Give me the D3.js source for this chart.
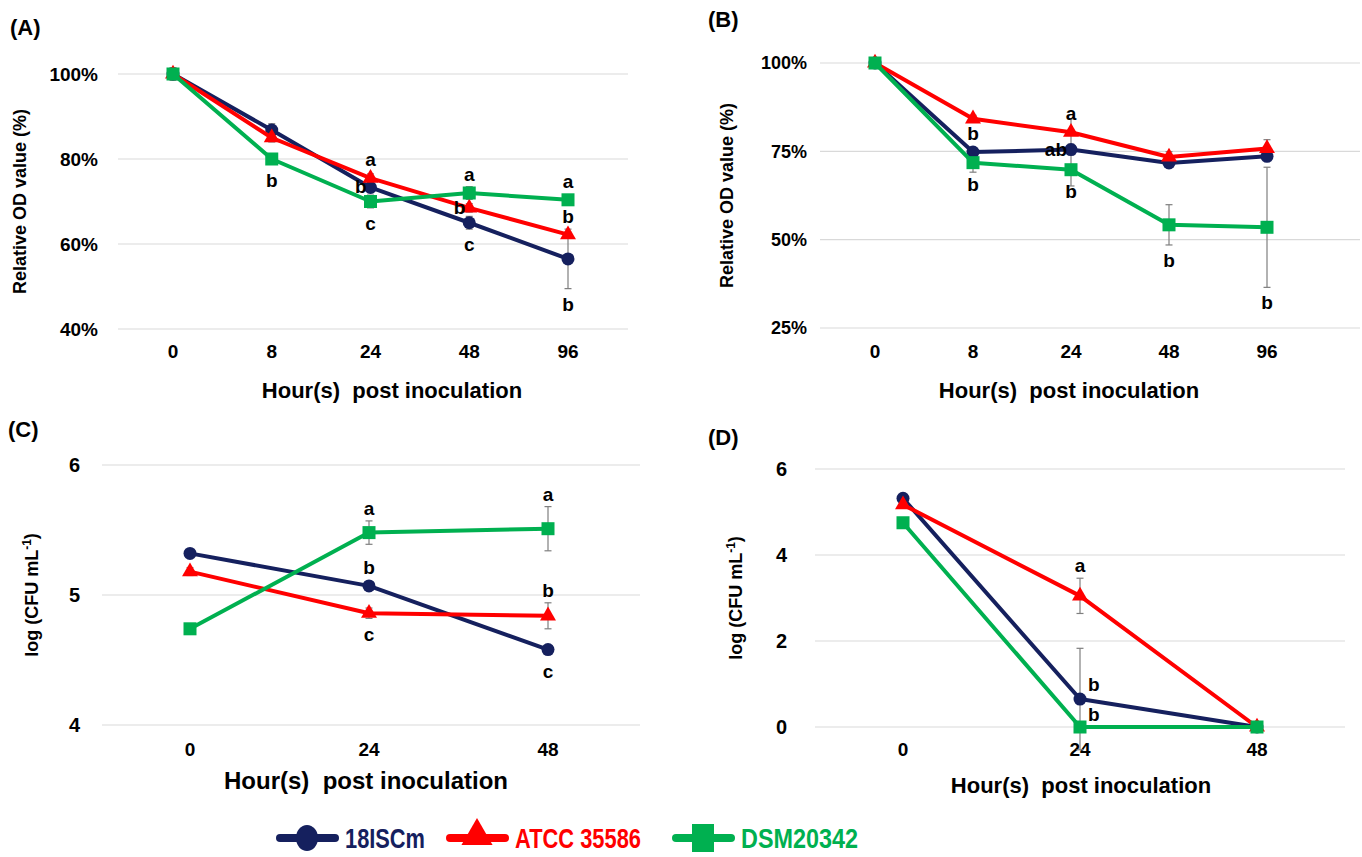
<!DOCTYPE html>
<html>
<head>
<meta charset="utf-8">
<script src="https://cdn.jsdelivr.net/npm/d3@7"></script>
<style>
  body { margin: 0; background: #fff; }
  svg text { font-family: "Liberation Sans", Arial, sans-serif; font-weight: bold; }
</style>
</head>
<body>
<svg id="chart" width="1362" height="857"></svg>
<script>
// strains
const strains = ["18ISCm", "ATCC 35586", "DSM20342"];
const colors = ["#15205e", "#ff0000", "#00b050"];
const shapes = ["circle", "triangle", "square"];

// panel A: relative OD (%)
const hoursAB = ["0", "8", "24", "48", "96"];
const odA = [
  [100, 86.8, 73.3, 65.0, 56.5],
  [100, 85.0, 75.5, 68.5, 62.2],
  [100, 80.0, 70.0, 72.0, 70.4],
];
const sdA = [
  [1, 1.5, 1.2, 1.5, 7],
  [1, 1, 1, 1, 0.6],
  [1.5, 1, 1.5, 1.5, 1],
];
const lettersA = [
  ["8", 2, "b", "below"],
  ["24", 1, "a", "above"], ["24", 0, "b", "left"], ["24", 2, "c", "below"],
  ["48", 2, "a", "above"], ["48", 1, "b", "left"], ["48", 0, "c", "below"],
  ["96", 2, "a", "above"], ["96", 1, "b", "above"], ["96", 0, "b", "belowbar"],
];
const ticksA = [40, 60, 80, 100];

// panel B: relative OD (%)
const odB = [
  [100, 74.8, 75.5, 71.7, 73.6],
  [100, 84.2, 80.4, 73.4, 75.8],
  [100, 71.8, 69.8, 54.2, 53.5],
];
const sdB = [
  [0.5, 1, 1.5, 1, 1.2],
  [0.5, 1, 3.8, 1.5, 2.5],
  [0.5, 2.7, 4.6, 5.7, 17],
];
const lettersB = [
  ["8", 0, "b", "above"], ["8", 2, "b", "below"],
  ["24", 1, "a", "above"], ["24", 0, "ab", "left"], ["24", 2, "b", "below"],
  ["48", 2, "b", "belowbar"],
  ["96", 2, "b", "belowbar"],
];
const ticksB = [25, 50, 75, 100];

// panel C: log CFU
const hoursCD = ["0", "24", "48"];
const cfuC = [
  [5.32, 5.07, 4.58],
  [5.18, 4.86, 4.84],
  [4.74, 5.48, 5.51],
];
const sdC = [
  [0.03, 0.02, 0.02],
  [0.03, 0.04, 0.1],
  [0.02, 0.09, 0.17],
];
const lettersC = [
  ["24", 2, "a", "abovebar"], ["24", 0, "b", "above"], ["24", 1, "c", "below"],
  ["48", 2, "a", "abovebar"], ["48", 1, "b", "abovebar"], ["48", 0, "c", "below"],
];
const ticksC = [4, 5, 6];

// panel D: log CFU
const cfuD = [
  [5.32, 0.65, 0],
  [5.17, 3.05, 0],
  [4.75, 0, 0],
];
const sdD = [
  [0.05, 1.18, 0],
  [0.05, 0.41, 0],
  [0.05, 0, 0],
];
const lettersD = [
  ["24", 1, "a", "abovebar"], ["24", 0, "b", "right"], ["24", 2, "b", "rightup"],
];
const ticksD = [0, 2, 4, 6];

const panels = [
  { label: "(A)", labelPos: [10, 35], cats: hoursAB, values: odA, sd: sdA, letters: lettersA,
    ticks: ticksA, domain: [40, 100], fmt: d => d + "%", yTitle: "Relative OD value (%)",
    plot: { x0: 118, x1: 628, y0: 74, y1: 329, c0: 173, c1: 568 }, yTitleX: 20, tickX: 98, tickSize: 19,
    xTickY: 358, xTitleY: 398, xTitleCx: 392, xTitleSize: 22 },
  { label: "(B)", labelPos: [708, 27], cats: hoursAB, values: odB, sd: sdB, letters: lettersB,
    ticks: ticksB, domain: [25, 100], fmt: d => d + "%", yTitle: "Relative OD value (%)",
    plot: { x0: 820, x1: 1360, y0: 63, y1: 328, c0: 875, c1: 1267 }, yTitleX: 727, tickX: 807, tickSize: 18,
    xTickY: 358, xTitleY: 398, xTitleCx: 1069, xTitleSize: 22 },
  { label: "(C)", labelPos: [8, 437], cats: hoursCD, values: cfuC, sd: sdC, letters: lettersC,
    ticks: ticksC, domain: [4, 6], fmt: d => d, yTitle: "log (CFU mL",
    plot: { x0: 102, x1: 640, y0: 465, y1: 725, c0: 190, c1: 548 }, yTitleX: 32, tickX: 80, tickSize: 20,
    xTickY: 756, xTitleY: 789, xTitleCx: 366, xTitleSize: 24 },
  { label: "(D)", labelPos: [708, 445], cats: hoursCD, values: cfuD, sd: sdD, letters: lettersD,
    ticks: ticksD, domain: [0, 6], fmt: d => d, yTitle: "log (CFU mL",
    plot: { x0: 815, x1: 1345, y0: 469, y1: 727, c0: 903, c1: 1257 }, yTitleX: 736, tickX: 787, tickSize: 20,
    xTickY: 756, xTitleY: 793, xTitleCx: 1081, xTitleSize: 22 },
];

const svg = d3.select("#chart");

const drawMarker = (g, shape, color, x, y) => {
  if (shape === "circle") {
    g.append("circle").attr("cx", x).attr("cy", y).attr("r", 6.5).attr("fill", color);
  } else if (shape === "triangle") {
    g.append("path").attr("d", d3.symbol(d3.symbolTriangle, 110)()).attr("transform", `translate(${x},${y})`).attr("fill", color);
  } else {
    g.append("rect").attr("x", x - 6.5).attr("y", y - 6.5).attr("width", 13).attr("height", 13).attr("fill", color);
  }
};

panels.forEach((p) => {
  const g = svg.append("g");
  const x = d3.scalePoint().domain(p.cats).range([p.plot.c0, p.plot.c1]);
  const y = d3.scaleLinear().domain(p.domain).range([p.plot.y1, p.plot.y0]);

  g.append("text").attr("x", p.labelPos[0]).attr("y", p.labelPos[1]).attr("font-size", 22).text(p.label);

  // gridlines
  g.selectAll(".grid").data(p.ticks).enter().append("line")
    .attr("x1", p.plot.x0).attr("x2", p.plot.x1)
    .attr("y1", d => y(d)).attr("y2", d => y(d))
    .attr("stroke", "#d9d9d9").attr("stroke-width", 1.2);

  g.selectAll(".ytick").data(p.ticks).enter().append("text")
    .attr("x", p.tickX).attr("y", d => y(d)).attr("dy", "0.35em")
    .attr("text-anchor", "end").attr("font-size", p.tickSize).text(p.fmt);

  g.selectAll(".xtick").data(p.cats).enter().append("text")
    .attr("x", d => x(d)).attr("y", p.xTickY)
    .attr("text-anchor", "middle").attr("font-size", 19).text(d => d);

  g.append("text").attr("x", p.xTitleCx).attr("y", p.xTitleY)
    .attr("text-anchor", "middle").attr("font-size", p.xTitleSize)
    .attr("xml:space", "preserve").text("Hour(s)  post inoculation");

  const cy = (p.plot.y0 + p.plot.y1) / 2;
  const yt = g.append("text").attr("transform", `translate(${p.yTitleX},${cy}) rotate(-90)`)
    .attr("text-anchor", "middle").attr("font-size", 18).attr("dy", "0.35em").text(p.yTitle);
  if (p.yTitle.startsWith("log")) {
    yt.append("tspan").attr("font-size", 12).attr("dy", "-0.6em").text("-1");
    yt.append("tspan").attr("font-size", 18).attr("dy", "0.35em").text(")");
  }

  // error bars
  p.values.forEach((vals, si) => {
    vals.forEach((v, i) => {
      const e = p.sd[si][i];
      if (!e) return;
      const cx = x(p.cats[i]);
      const eb = g.append("g").attr("stroke", "#7f7f7f").attr("stroke-width", 1.2);
      eb.append("line").attr("x1", cx).attr("x2", cx).attr("y1", y(v - e)).attr("y2", y(v + e));
      [v - e, v + e].forEach(t => eb.append("line").attr("x1", cx - 3.5).attr("x2", cx + 3.5).attr("y1", y(t)).attr("y2", y(t)));
    });
  });

  // lines + markers
  const line = d3.line().x((d, i) => x(p.cats[i])).y(d => y(d));
  p.values.forEach((vals, si) => {
    g.append("path").datum(vals).attr("d", line).attr("fill", "none")
      .attr("stroke", colors[si]).attr("stroke-width", 4).attr("stroke-linejoin", "round");
    vals.forEach((v, i) => drawMarker(g, shapes[si], colors[si], x(p.cats[i]), y(v)));
  });

  // significance letters
  p.letters.forEach(([cat, si, txt, where]) => {
    const i = p.cats.indexOf(cat);
    const v = p.values[si][i];
    const e = p.sd[si][i];
    let tx = x(cat), ty = y(v), anchor = "middle";
    if (where === "above") ty -= 12;
    else if (where === "abovebar") ty = y(v + e) - 6;
    else if (where === "below") ty += 28;
    else if (where === "belowbar") ty = y(v - e) + 22;
    else if (where === "left") { tx -= 4; ty += 6; anchor = "end"; }
    else if (where === "right") { tx += 8; ty -= 8; anchor = "start"; }
    else if (where === "rightup") { tx += 8; ty -= 6; anchor = "start"; }
    g.append("text").attr("x", tx).attr("y", ty).attr("text-anchor", anchor)
      .attr("font-size", 19).text(txt);
  });
});

// legend (text is condensed in the original)
const legendX = [280, 450, 676];
const legendTextW = [80, 126, 117];
const lg = svg.append("g");
strains.forEach((s, si) => {
  const lx = legendX[si], ly = 838;
  lg.append("line").attr("x1", lx).attr("x2", lx + 55).attr("y1", ly).attr("y2", ly)
    .attr("stroke", colors[si]).attr("stroke-width", 8).attr("stroke-linecap", "round");
  if (shapes[si] === "circle") {
    lg.append("ellipse").attr("cx", lx + 27).attr("cy", ly).attr("rx", 11).attr("ry", 13).attr("fill", colors[si]);
  } else if (shapes[si] === "triangle") {
    lg.append("path").attr("d", d3.symbol(d3.symbolTriangle, 420)()).attr("transform", `translate(${lx + 27},${ly - 2})`).attr("fill", colors[si]);
  } else {
    lg.append("rect").attr("x", lx + 16).attr("y", ly - 14).attr("width", 22).attr("height", 28).attr("fill", colors[si]);
  }
  lg.append("text").attr("x", lx + 65).attr("y", ly + 10).attr("font-size", 27)
    .attr("textLength", legendTextW[si]).attr("lengthAdjust", "spacingAndGlyphs")
    .attr("fill", colors[si]).text(s);
});
</script>
</body>
</html>
